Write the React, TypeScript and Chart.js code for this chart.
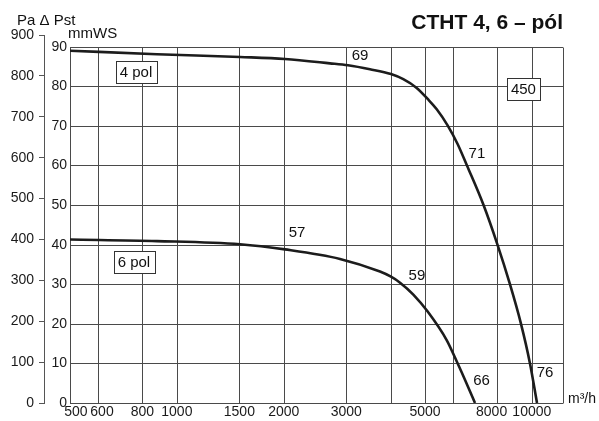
import { useEffect, useRef } from "react";
import { Chart, registerables } from "chart.js";

Chart.register(...registerables);

// ---- data (flow m³/h, static pressure mmWS) ----
const flow4pol = [500, 879, 1506, 2016, 2699, 3034, 3499, 4010, 4343, 4738, 5088, 5396, 5784, 6173, 6564, 7310, 8001, 8676, 9321, 9880, 10342];
const mmws4pol = [89.0, 88.1, 87.4, 86.9, 85.8, 85.3, 84.3, 83.1, 81.8, 79.6, 76.8, 74.2, 70.2, 65.5, 60, 50, 40, 30, 20, 10, 0];

const flow6pol = [500, 879, 1506, 2016, 2881, 3734, 4010, 4253, 4636, 5088, 5755, 6173, 6581, 6916];
const mmws6pol = [41.3, 40.9, 40.1, 38.8, 36.4, 33.2, 31.9, 30.4, 27.4, 23.1, 15.9, 10.1, 4.5, 0];

const xTickValues = [500, 600, 800, 1000, 1500, 2000, 3000, 5000, 8000, 10000];
const xGridValues = [600, 800, 1000, 1500, 2000, 3000, 4000, 5000, 6000, 8000, 10000];
const mmTicks = [0, 10, 20, 30, 40, 50, 60, 70, 80, 90];
const paTicks = [0, 100, 200, 300, 400, 500, 600, 700, 800, 900];

// curve annotations (text, flow, mmWS)
const curveLabelText = ["69", "71", "57", "59", "66", "76"];
const curveLabelFlow = [3280, 7005, 2180, 4744, 7215, 10890];
const curveLabelMm = [87.6, 62.9, 43.1, 32.1, 5.7, 7.7];

const boxLabelText = ["4 pol", "6 pol", "450"];
const boxLabelFlow = [767, 757, 9470];
const boxLabelMm = [83.7, 35.7, 79.4];

const titleText = "CTHT 4, 6 – pól";
const paTitle = "Pa Δ Pst";
const mmTitle = "mmWS";
const flowUnit = "m³/h";

const FONT = "'Liberation Sans', Arial, Helvetica, sans-serif";

const X_MIN = 500;
const X_MAX = 12240;
const MM_MAX = 92.96;
const PA_MAX = 900;

// label nudges to avoid overlap, as in the original print
const labelPad: Record<number, [number, number]> = { 500: [3, 0], 600: [2, 0], 8000: [0, 3] };

const gridPlugin = {
  id: "fanGrid",
  beforeDatasetsDraw(chart: any) {
    const { ctx, chartArea } = chart;
    const xs = chart.scales.x;
    const ys = chart.scales.y;
    const top = ys.getPixelForValue(90);
    const bottom = ys.getPixelForValue(0);
    ctx.save();
    ctx.strokeStyle = "#4a4a4a";
    ctx.lineWidth = 1;
    ctx.beginPath();
    for (const v of mmTicks) {
      const y = Math.round(ys.getPixelForValue(v)) + 0.5;
      ctx.moveTo(chartArea.left, y);
      ctx.lineTo(chartArea.right, y);
    }
    const verts = [chartArea.left, ...xGridValues.map((v) => xs.getPixelForValue(v)), chartArea.right];
    for (const px of verts) {
      const x = Math.round(px) + 0.5;
      ctx.moveTo(x, Math.round(top) + 0.5);
      ctx.lineTo(x, Math.round(bottom) + 0.5);
    }
    ctx.stroke();
    ctx.restore();
  },
  afterDatasetsDraw(chart: any) {
    const { ctx, chartArea } = chart;
    const xs = chart.scales.x;
    const ys = chart.scales.y;
    ctx.save();
    ctx.fillStyle = "#111";
    ctx.textBaseline = "middle";
    ctx.textAlign = "center";
    ctx.font = `15px ${FONT}`;
    curveLabelText.forEach((t, i) => {
      ctx.fillText(t, xs.getPixelForValue(curveLabelFlow[i]), ys.getPixelForValue(curveLabelMm[i]));
    });
    boxLabelText.forEach((t, i) => {
      const cx = xs.getPixelForValue(boxLabelFlow[i]);
      const cy = ys.getPixelForValue(boxLabelMm[i]);
      const w = ctx.measureText(t).width + 8;
      const h = 22;
      const x0 = Math.round(cx - w / 2) + 0.5;
      const y0 = Math.round(cy - h / 2) + 0.5;
      ctx.fillStyle = "#fff";
      ctx.fillRect(x0, y0, Math.round(w), h);
      ctx.strokeStyle = "#333";
      ctx.lineWidth = 1;
      ctx.strokeRect(x0, y0, Math.round(w), h);
      ctx.fillStyle = "#111";
      ctx.fillText(t, cx, cy + 1);
    });
    // titles
    ctx.textBaseline = "alphabetic";
    ctx.textAlign = "right";
    ctx.font = `bold 21px ${FONT}`;
    ctx.fillText(titleText, chartArea.right, 29);
    ctx.textAlign = "left";
    ctx.font = `15px ${FONT}`;
    ctx.fillText(paTitle, 17, 25);
    ctx.fillText(mmTitle, 68, 38);
    ctx.font = `14px ${FONT}`;
    ctx.fillText(flowUnit, chartArea.right + 5, chartArea.bottom);
    ctx.restore();
  },
};

export default function App() {
  const ref = useRef<HTMLCanvasElement | null>(null);
  useEffect(() => {
    if (!ref.current) return;
    const chart = new Chart(ref.current, {
      type: "line",
      data: {
        datasets: [
          {
            label: "4 pol",
            data: flow4pol.map((x, i) => ({ x, y: mmws4pol[i] })),
            borderColor: "#1c1c1c",
            borderWidth: 2.6,
            pointRadius: 0,
            cubicInterpolationMode: "monotone",
            yAxisID: "y",
            xAxisID: "x",
          },
          {
            label: "6 pol",
            data: flow6pol.map((x, i) => ({ x, y: mmws6pol[i] })),
            borderColor: "#1c1c1c",
            borderWidth: 2.6,
            pointRadius: 0,
            cubicInterpolationMode: "monotone",
            yAxisID: "y",
            xAxisID: "x",
          },
        ],
      },
      options: {
        animation: false,
        responsive: false,
        maintainAspectRatio: false,
        layout: { padding: { left: 0, top: 35, right: 36, bottom: 0 } },
        plugins: { legend: { display: false }, tooltip: { enabled: false }, title: { display: false } },
        scales: {
          x: {
            type: "logarithmic",
            position: "bottom",
            min: X_MIN,
            max: X_MAX,
            grid: { display: false, drawTicks: false },
            border: { display: false },
            afterBuildTicks: (s: any) => {
              s.ticks = xTickValues.map((v) => ({ value: v }));
            },
            afterFit: (s: any) => {
              s.height = 18;
            },
            ticks: {
              autoSkip: false,
              maxRotation: 0,
              padding: 1,
              color: "#1a1a1a",
              font: { family: FONT, size: 14 },
              callback: (v: any) => {
                const p = labelPad[Number(v)] || [0, 0];
                return " ".repeat(p[0]) + String(v) + " ".repeat(p[1]);
              },
            },
          },
          y: {
            type: "linear",
            position: "left",
            weight: 0,
            min: 0,
            max: MM_MAX,
            grid: { display: false, drawTicks: false },
            border: { display: false },
            afterBuildTicks: (s: any) => {
              s.ticks = mmTicks.map((v) => ({ value: v }));
            },
            afterFit: (s: any) => {
              s.width = 26;
            },
            ticks: {
              padding: 3,
              color: "#1a1a1a",
              font: { family: FONT, size: 14 },
            },
          },
          yPa: {
            type: "linear",
            position: "left",
            weight: 1,
            min: 0,
            max: PA_MAX,
            grid: { drawOnChartArea: false, drawTicks: true, tickLength: 5, color: "#555" },
            border: { display: true, color: "#555", width: 1 },
            afterBuildTicks: (s: any) => {
              s.ticks = paTicks.map((v) => ({ value: v }));
            },
            afterFit: (s: any) => {
              s.width = 44;
            },
            ticks: {
              padding: 5,
              color: "#1a1a1a",
              font: { family: FONT, size: 14 },
            },
          },
        },
      } as any,
      plugins: [gridPlugin],
    });
    return () => chart.destroy();
  }, []);
  return (
    <div style={{ position: "absolute", left: 0, top: 0, width: 599, height: 421, background: "#fff" }}>
      <canvas ref={ref} width={599} height={421} style={{ width: 599, height: 421, display: "block" }} />
    </div>
  );
}
